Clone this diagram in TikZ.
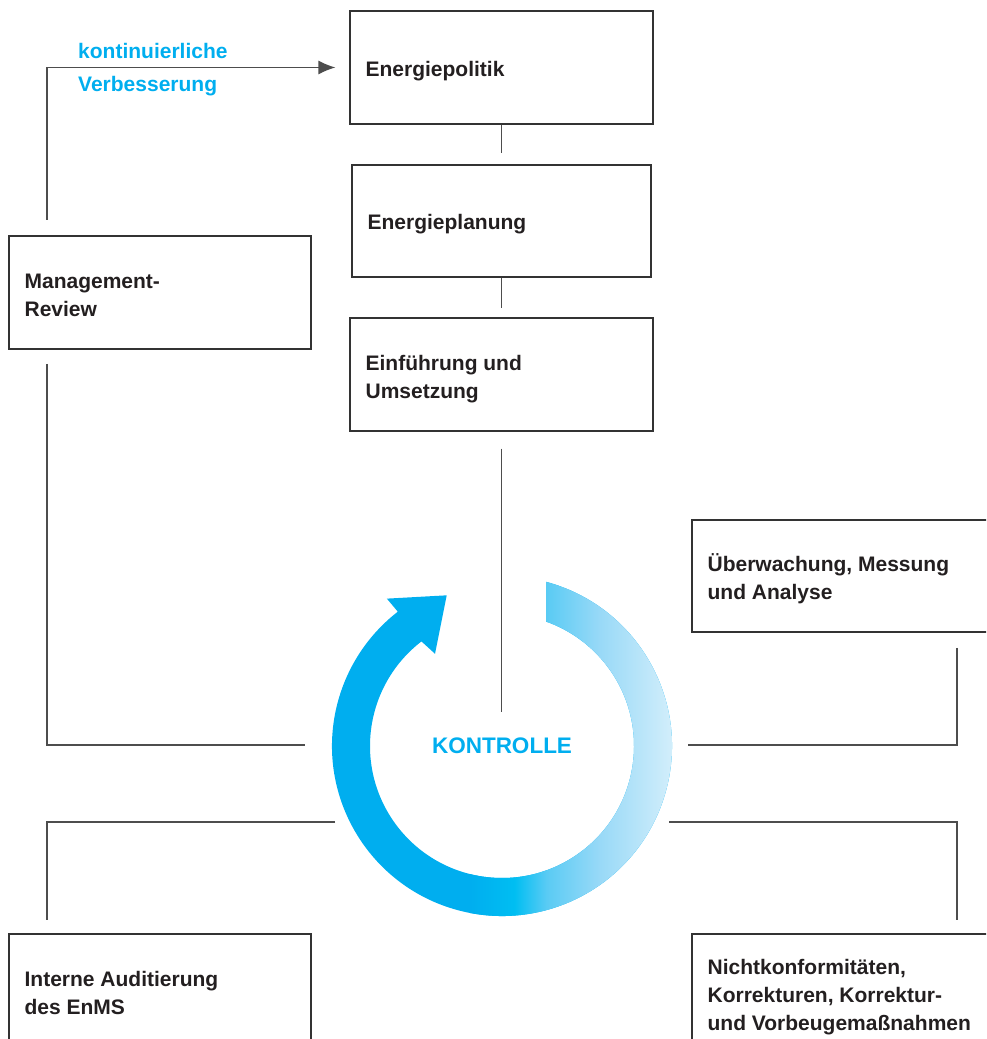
\documentclass[tikz,border=0pt]{standalone}
\usepackage{fontspec}
\setmainfont{Liberation Sans}
\usetikzlibrary{arrows.meta,calc}
\definecolor{kcyan}{HTML}{00AEEF}
\definecolor{kca}{HTML}{00AEEF}
\definecolor{kcb}{HTML}{00BEF2}
\definecolor{kcc}{HTML}{5ACBF4}
\definecolor{kcd}{HTML}{98D9F7}
\definecolor{kce}{HTML}{D2EEFB}
\definecolor{boxgray}{HTML}{333333}
\definecolor{linegray}{HTML}{4D4D4D}
\definecolor{textdark}{HTML}{231F20}
\pgfdeclarehorizontalshading{ringshade}{100bp}{color(0bp)=(kca); color(25bp)=(kca); color(36bp)=(kcb); color(44bp)=(kcc); color(57bp)=(kcd); color(75bp)=(kce); color(100bp)=(kce)}
\tikzset{
  boxnode/.style={draw=boxgray, line width=1.2pt, rectangle, inner sep=0pt,
    minimum height=113pt, minimum width=303pt},
  boxtext/.style={anchor=west, inner sep=0pt, align=left,
    font=\bfseries\fontsize{21}{28}\selectfont, text=textdark},
  conn/.style={draw=linegray, line width=1.3pt},
  cyantext/.style={font=\bfseries\fontsize{21}{28}\selectfont, text=kcyan, inner sep=0pt},
}
\begin{document}
\begin{tikzpicture}[x=1pt,y=1pt]
\useasboundingbox (0,0) rectangle (986,1039);
\clip (0,0) rectangle (986,1039);

% boxes
\node[boxnode] (pol) at (501.5,971.5) {};
\node[boxnode, minimum width=299pt, minimum height=112pt] (plan) at (501.5,818) {};
\node[boxnode] (ein) at (501.5,664.5) {};
\node[boxnode, minimum width=302pt] (mgmt) at (160,746.5) {};
\node[boxnode, minimum height=112pt] (ueb) at (843.5,463) {};
\node[boxnode, minimum width=302pt] (aud) at (160,48.5) {};
\node[boxnode] (nk) at (843.5,48.5) {};

% box texts
\node[boxtext] (polT) at ([xshift=16pt,yshift=-4pt]pol.west) {Energiepolitik};
\node[boxtext] (planT) at ([xshift=16pt,yshift=-3pt]plan.west) {Energieplanung};
\node[boxtext] (einT) at ([xshift=16pt,yshift=-5pt]ein.west) {Einführung und\\Umsetzung};
\node[boxtext] (mgmtT) at ([xshift=16pt,yshift=-3pt]mgmt.west) {Management-\\Review};
\node[boxtext] (uebT) at ([xshift=16pt,yshift=-3pt]ueb.west) {Überwachung, Messung\\und Analyse};
\node[boxtext] (audT) at ([xshift=16pt,yshift=-2pt]aud.west) {Interne Auditierung\\des EnMS};
\node[boxtext] (nkT) at ([xshift=16pt,yshift=-7pt]nk.west) {Nichtkonformitäten,\\Korrekturen, Korrektur-\\und Vorbeugemaßnahmen};

% ring
\coordinate (ctr) at (502,293);
\begin{scope}
\clip (546,457.2) arc[start angle=75, end angle=-232.2, radius=170pt]
  -- ($(ctr)+(128:187pt)$) -- ($(ctr)+(110.15:160.5pt)$) -- ($(ctr)+(126:114pt)$)
  -- ($(ctr)+(127.6:132pt)$) arc[start angle=-232.4, end angle=70.5, radius=132pt] -- cycle;
\fill[kcyan] (300,90) rectangle (700,480);
\shade[shading=ringshade] (470,90) rectangle (672,480);
\end{scope}
\node[cyantext, font=\bfseries\fontsize{22.5}{28}\selectfont] (kon) at (ctr) {KONTROLLE};

% connectors
\draw[conn] (pol.south) -- ++(0,-28);
\draw[conn] (plan.south) -- ++(0,-30);
\coordinate (einend) at (501.5,327);
\draw[conn] ([yshift=-17pt]ein.south) -- (einend);

\coordinate (mtop) at (47,819);
\draw[conn, -{Latex[length=17pt,width=14pt]}] (mtop) |- ([xshift=-14pt]pol.west);
\node[cyantext, anchor=base west] (kv1) at (78,980.5) {kontinuierliche};
\node[cyantext, anchor=base west] (kv2) at (78,947.3) {Verbesserung};

\coordinate (mbot) at (47,675);
\coordinate (mend) at (305,294);
\draw[conn] (mbot) |- (mend);

\coordinate (ustart) at (957,391);
\coordinate (uend) at (688,294);
\draw[conn] (ustart) |- (uend);

\coordinate (astart) at (335,217);
\coordinate (aend) at (47,119);
\draw[conn] (astart) -| (aend);

\coordinate (nstart) at (669,217);
\coordinate (nend) at (957,119);
\draw[conn] (nstart) -| (nend);
\end{tikzpicture}
\end{document}
